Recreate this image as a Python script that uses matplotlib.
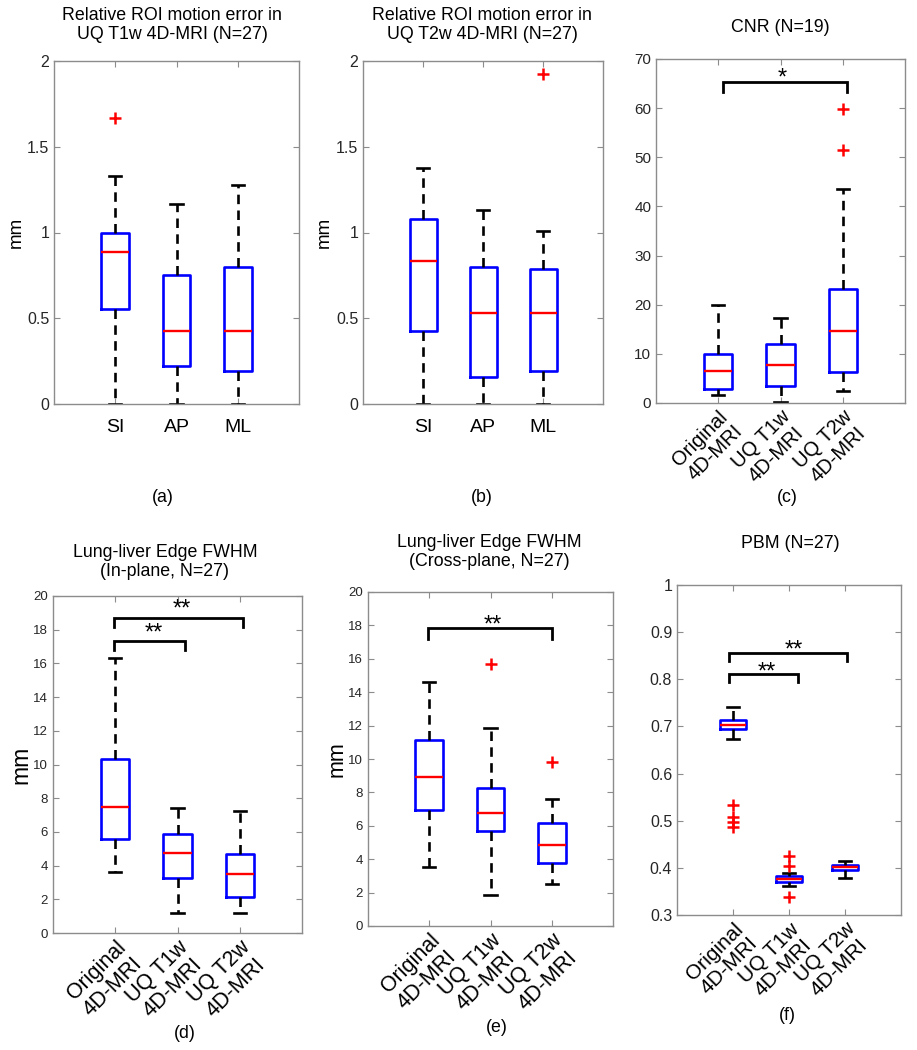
import matplotlib
matplotlib.use('Agg')
import matplotlib.pyplot as plt

plt.rcParams['font.family'] = ['Liberation Sans', 'DejaVu Sans']

# ---------------- data ----------------
motion_labels = ['SI', 'AP', 'ML']
group_labels = ['Original\n4D-MRI', 'UQ T1w\n4D-MRI', 'UQ T2w\n4D-MRI']

# (a) Relative ROI motion error, UQ T1w
a_whislo = [0.0, 0.0, 0.0]
a_q1 = [0.555, 0.22, 0.195]
a_med = [0.885, 0.425, 0.425]
a_q3 = [1.0, 0.755, 0.80]
a_whishi = [1.33, 1.165, 1.275]
a_fliers = [[1.665], [], []]

# (b) Relative ROI motion error, UQ T2w
b_whislo = [0.0, 0.0, 0.0]
b_q1 = [0.425, 0.16, 0.19]
b_med = [0.833, 0.53, 0.53]
b_q3 = [1.08, 0.798, 0.787]
b_whishi = [1.377, 1.134, 1.01]
b_fliers = [[], [], [1.922]]

# (c) CNR
c_whislo = [1.6, 0.15, 2.45]
c_q1 = [2.9, 3.4, 6.4]
c_med = [6.5, 7.65, 14.65]
c_q3 = [9.9, 12.05, 23.15]
c_whishi = [19.95, 17.35, 43.5]
c_fliers = [[], [], [51.5, 59.9]]

# (d) Lung-liver edge FWHM, in-plane
d_whislo = [3.6, 1.2, 1.2]
d_q1 = [5.57, 3.27, 2.15]
d_med = [7.5, 4.72, 3.52]
d_q3 = [10.35, 5.88, 4.67]
d_whishi = [16.3, 7.43, 7.25]
d_fliers = [[], [], []]

# (e) Lung-liver edge FWHM, cross-plane
e_whislo = [3.55, 1.85, 2.5]
e_q1 = [6.92, 5.68, 3.78]
e_med = [8.9, 6.78, 4.85]
e_q3 = [11.15, 8.27, 6.16]
e_whishi = [14.64, 11.84, 7.6]
e_fliers = [[], [15.7], [9.82]]

# (f) PBM
f_whislo = [0.674, 0.361, 0.379]
f_q1 = [0.694, 0.371, 0.396]
f_med = [0.703, 0.377, 0.402]
f_q3 = [0.713, 0.382, 0.407]
f_whishi = [0.742, 0.389, 0.415]
f_fliers = [[0.533, 0.507, 0.497, 0.487], [0.425, 0.404, 0.338], []]

# significance annotations: (x_start, x_end, bar_y, leg_y, text, text_x, text_y)
c_sig = [(1.08, 3.07, 65.3, 63.2, '*', 2.02, 67.4)]
d_sig = [(0.98, 2.12, 17.3, 16.8, '**', 1.62, 18.2),
         (0.98, 3.05, 18.7, 18.15, '**', 2.07, 19.6)]
e_sig = [(0.98, 3.0, 17.85, 17.2, '**', 2.04, 18.45)]
f_sig = [(0.93, 2.16, 0.811, 0.794, '**', 1.6, 0.83),
         (0.93, 3.04, 0.856, 0.838, '**', 2.09, 0.877)]

# ---------------- figure ----------------
W, H = 917, 1050
fig = plt.figure(figsize=(W / 100, H / 100), dpi=100)


def px_axes(l, t, r, b):
    return fig.add_axes([l / W, 1 - b / H, (r - l) / W, (b - t) / H])


def ftext(x, y, s, size, **kw):
    fig.text(x / W, 1 - y / H, s, ha='center', va='center', fontsize=size,
             color='black', **kw)


def draw_box(ax, labels, whislo, q1, med, q3, whishi, fliers):
    stats = []
    for i in range(len(labels)):
        stats.append(dict(label=labels[i], whislo=whislo[i], q1=q1[i],
                          med=med[i], q3=q3[i], whishi=whishi[i],
                          fliers=fliers[i]))
    ax.bxp(stats, positions=[1, 2, 3], widths=0.45, capwidths=0.2,
           boxprops=dict(color='#0000ff', lw=1.9),
           whiskerprops=dict(color='black', lw=1.9, linestyle=(0, (3.6, 2.4))),
           capprops=dict(color='black', lw=1.9),
           medianprops=dict(color='#ff0000', lw=1.7),
           flierprops=dict(marker='+', markeredgecolor='#ff0000',
                           markersize=8, mew=1.8, linestyle='none'),
           manage_ticks=False)
    ax.set_xlim(0, 4)
    ax.set_xticks([1, 2, 3])
    for s in ax.spines.values():
        s.set_color('#8c8c8c')
        s.set_linewidth(1.0)
    ax.tick_params(direction='in', top=True, right=True, length=4,
                   color='#8c8c8c', labelcolor='#262626', width=0.8)


def draw_sig(ax, sig):
    for (x0, x1, yb, yl, txt, tx, ty) in sig:
        ax.plot([x0, x0, x1, x1], [yl, yb, yb, yl], color='black', lw=2.0,
                solid_joinstyle='miter')
        ax.annotate(txt, (tx, ty), xytext=(0, -9.5), textcoords='offset points',
                    ha='center', va='baseline', fontsize=17, color='black')


def rot_labels(ax, size):
    ax.set_xticklabels(group_labels, rotation=45, ha='right',
                       rotation_mode='anchor', multialignment='center',
                       fontsize=size, color='black', linespacing=1.1)
    ax.tick_params(axis='x', pad=3)


# (a)
axa = px_axes(54, 61, 299, 404)
draw_box(axa, motion_labels, a_whislo, a_q1, a_med, a_q3, a_whishi, a_fliers)
axa.set_ylim(0, 2)
axa.set_yticks([0, 0.5, 1, 1.5, 2])
axa.set_yticklabels(['0', '0.5', '1', '1.5', '2'], fontsize=11.5)
axa.set_xticklabels(motion_labels, fontsize=14, color='black')
axa.tick_params(axis='x', pad=11)
axa.set_ylabel('mm', fontsize=13.5, va='center')
axa.yaxis.set_label_coords(-0.155, 0.5)

# (b)
axb = px_axes(363, 61, 603, 404)
draw_box(axb, motion_labels, b_whislo, b_q1, b_med, b_q3, b_whishi, b_fliers)
axb.set_ylim(0, 2)
axb.set_yticks([0, 0.5, 1, 1.5, 2])
axb.set_yticklabels(['0', '0.5', '1', '1.5', '2'], fontsize=11.5)
axb.set_xticklabels(motion_labels, fontsize=14, color='black')
axb.tick_params(axis='x', pad=11)
axb.set_ylabel('mm', fontsize=13.5, va='center')
axb.yaxis.set_label_coords(-0.16, 0.5)

# (c)
axc = px_axes(656, 59, 905, 403)
draw_box(axc, group_labels, c_whislo, c_q1, c_med, c_q3, c_whishi, c_fliers)
axc.set_ylim(0, 70)
axc.set_yticks(range(0, 71, 10))
axc.tick_params(axis='y', labelsize=11)
rot_labels(axc, 14.5)
draw_sig(axc, c_sig)

# (d)
axd = px_axes(53, 596, 302, 933)
draw_box(axd, group_labels, d_whislo, d_q1, d_med, d_q3, d_whishi, d_fliers)
axd.set_ylim(0, 20)
axd.set_yticks(range(0, 21, 2))
axd.tick_params(axis='y', labelsize=9.5)
rot_labels(axd, 15.5)
axd.set_ylabel('mm', fontsize=16.5, va='center')
axd.yaxis.set_label_coords(-0.128, 0.5)
draw_sig(axd, d_sig)

# (e)
axe = px_axes(368, 592, 613, 926)
draw_box(axe, group_labels, e_whislo, e_q1, e_med, e_q3, e_whishi, e_fliers)
axe.set_ylim(0, 20)
axe.set_yticks(range(0, 21, 2))
axe.tick_params(axis='y', labelsize=9.5)
rot_labels(axe, 15.5)
axe.set_ylabel('mm', fontsize=15.5, va='center')
axe.yaxis.set_label_coords(-0.127, 0.5)
draw_sig(axe, e_sig)

# (f)
axf = px_axes(677, 585, 901, 915)
draw_box(axf, group_labels, f_whislo, f_q1, f_med, f_q3, f_whishi, f_fliers)
axf.set_ylim(0.3, 1.0)
axf.set_yticks([0.3, 0.4, 0.5, 0.6, 0.7, 0.8, 0.9, 1.0])
axf.set_yticklabels(['0.3', '0.4', '0.5', '0.6', '0.7', '0.8', '0.9', '1'])
axf.tick_params(axis='y', labelsize=11.5)
rot_labels(axf, 15)
draw_sig(axf, f_sig)

# titles
ftext(172, 25, 'Relative ROI motion error in\nUQ T1w 4D-MRI (N=27)', 12.8,
      linespacing=1.15)
ftext(482, 25, 'Relative ROI motion error in\nUQ T2w 4D-MRI (N=27)', 12.8,
      linespacing=1.15)
ftext(780, 27, 'CNR (N=19)', 12.8)
ftext(165, 562, 'Lung-liver Edge FWHM\n(In-plane, N=27)', 12.8, linespacing=1.15)
ftext(489, 552, 'Lung-liver Edge FWHM\n(Cross-plane, N=27)', 12.8,
      linespacing=1.15)
ftext(790, 543, 'PBM (N=27)', 12.8)

# panel letters
ftext(163, 498, '(a)', 12.8)
ftext(482, 498, '(b)', 12.8)
ftext(787, 498, '(c)', 12.8)
ftext(185, 1033, '(d)', 12.8)
ftext(497, 1027, '(e)', 12.8)
ftext(787, 1015, '(f)', 12.8)

fig.savefig('out.png', dpi=100, facecolor='white')
